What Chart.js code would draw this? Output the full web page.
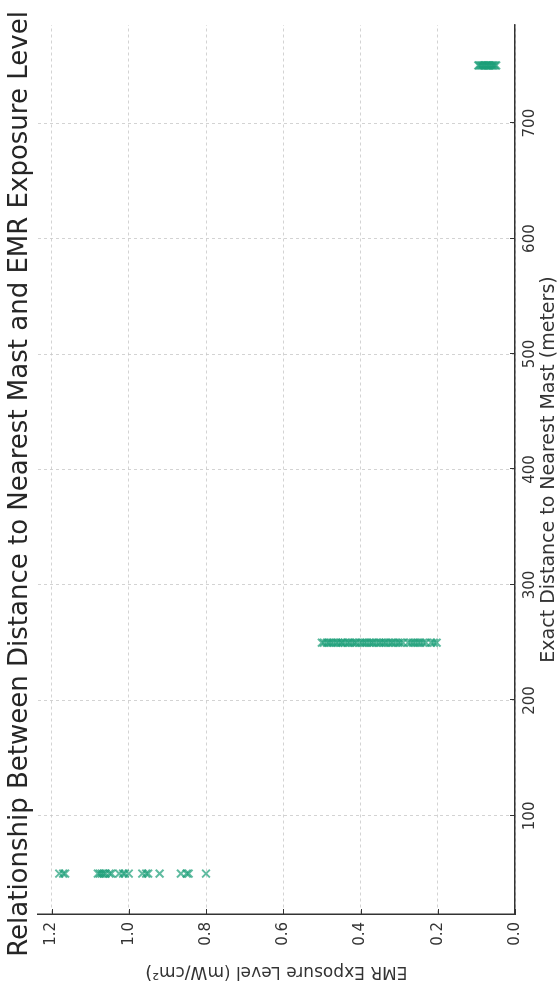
<!DOCTYPE html>
<html>
<head>
<meta charset="utf-8">
<script src="https://cdn.jsdelivr.net/npm/chart.js@4/dist/chart.umd.min.js"></script>
<style>
  html, body { margin: 0; padding: 0; background: #ffffff; overflow: hidden; }
  body { width: 560px; height: 982px; position: relative; }
  /* the chart is laid out landscape and turned a quarter turn counter-clockwise */
  #frame {
    position: absolute; left: 0; top: 0;
    width: 982px; height: 560px;
    transform-origin: 0 0;
    transform: translateY(982px) rotate(-90deg);
  }
</style>
</head>
<body>
<div id="frame"><canvas id="chart" width="982" height="560"></canvas></div>
<script>
// Distance groups (meters) and the EMR readings taken at each
const distanceGroups = [50, 250, 750];
const emrAt50 = [1.18, 1.17, 1.165, 1.08, 1.075, 1.07, 1.065, 1.06, 1.05, 1.045, 1.025, 1.015, 1.01, 1.0,
                 0.965, 0.955, 0.95, 0.92, 0.865, 0.85, 0.845, 0.80];
const emrAt250 = [0.50, 0.495, 0.487, 0.482, 0.476, 0.47, 0.463, 0.458, 0.451, 0.447, 0.44, 0.433, 0.428,
                  0.421, 0.415, 0.41, 0.402, 0.396, 0.39, 0.384, 0.377, 0.371, 0.366, 0.359, 0.352, 0.347,
                  0.34, 0.335, 0.328, 0.321, 0.316, 0.309, 0.302, 0.297, 0.29, 0.277, 0.27, 0.264, 0.258,
                  0.251, 0.245, 0.238, 0.231, 0.217, 0.21, 0.203];
const emrAt750 = [0.095, 0.092, 0.088, 0.085, 0.082, 0.079, 0.075, 0.072, 0.069, 0.066, 0.062, 0.059,
                  0.056, 0.052, 0.049];
const xTicks = [100, 200, 300, 400, 500, 600, 700];
const yTicks = [0.0, 0.2, 0.4, 0.6, 0.8, 1.0, 1.2];

const readings = [emrAt50, emrAt250, emrAt750];
const points = [];
distanceGroups.forEach((d, i) => readings[i].forEach(v => points.push({ x: d, y: v })));

const FONT = 'DejaVu Sans';
const TITLE = 'Relationship Between Distance to Nearest Mast and EMR Exposure Level';

// title and small inward tick marks
const decorations = {
  id: 'decorations',
  afterDraw(chart) {
    const { ctx, chartArea } = chart;
    ctx.save();
    ctx.strokeStyle = '#333333';
    ctx.lineWidth = 1;
    const xs = chart.scales.x, ys = chart.scales.y;
    xTicks.forEach(t => {
      const px = Math.round(xs.getPixelForValue(t)) + 0.5;
      ctx.beginPath(); ctx.moveTo(px, chartArea.bottom); ctx.lineTo(px, chartArea.bottom - 5); ctx.stroke();
    });
    yTicks.forEach(t => {
      const py = Math.round(ys.getPixelForValue(t)) + 0.5;
      ctx.beginPath(); ctx.moveTo(chartArea.left, py); ctx.lineTo(chartArea.left + 5, py); ctx.stroke();
    });
    ctx.fillStyle = '#262626';
    ctx.font = '26px "' + FONT + '"';
    ctx.textAlign = 'center';
    ctx.textBaseline = 'middle';
    ctx.fillText(TITLE, 498, 20);
    ctx.restore();
  }
};

new Chart(document.getElementById('chart'), {
  type: 'scatter',
  data: {
    datasets: [{
      data: points,
      pointStyle: 'crossRot',
      radius: 5.5,
      hoverRadius: 5.5,
      borderWidth: 2,
      borderColor: 'rgba(27,158,119,0.7)',
      backgroundColor: 'rgba(27,158,119,0.7)'
    }]
  },
  options: {
    responsive: false,
    animation: false,
    devicePixelRatio: 1,
    layout: { padding: { top: 38, right: 25, left: 0, bottom: 0 } },
    plugins: { legend: { display: false }, tooltip: { enabled: false }, title: { display: false } },
    scales: {
      x: {
        type: 'linear',
        min: 15, max: 785,
        afterFit(s) { s.height = 45; },
        afterBuildTicks(s) { s.ticks = xTicks.map(v => ({ value: v })); },
        ticks: {
          padding: 6, color: '#333333', font: { family: FONT, size: 15 },
          callback: v => String(v)
        },
        grid: { color: '#c8c8c8', lineWidth: 0.8, drawTicks: false },
        border: { display: true, color: '#333333', width: 1.5, dash: [3, 3] },
        title: {
          display: true, text: 'Exact Distance to Nearest Mast (meters)',
          color: '#333333', font: { family: FONT, size: 19 }, padding: { top: 0, bottom: 0 }
        }
      },
      y: {
        type: 'linear',
        min: 0, max: 1.235,
        afterFit(s) { s.width = 68; },
        afterBuildTicks(s) { s.ticks = yTicks.map(v => ({ value: v })); },
        ticks: {
          padding: 8, color: '#333333', font: { family: FONT, size: 15 },
          callback: v => Number(v).toFixed(1)
        },
        grid: { color: '#c8c8c8', lineWidth: 0.8, drawTicks: false },
        border: { display: true, color: '#333333', width: 1.5, dash: [3, 3] },
        title: {
          display: true, text: 'EMR Exposure Level (mW/cm²)',
          color: '#333333', font: { family: FONT, size: 17 }, padding: { top: 0, bottom: 0 }
        }
      }
    }
  },
  plugins: [decorations]
});
</script>
</body>
</html>
